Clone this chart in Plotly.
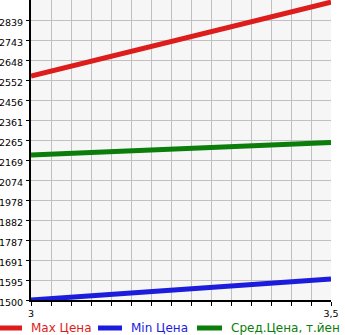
import plotly.graph_objects as go

x_vals = [3.0, 3.5]
max_price = [2571, 2925]
min_price = [1500, 1600]
avg_price = [2194, 2253]

series_names = ["Max Цена", "Min Цена", "Сред.Цена, т.йен"]
series_colors = ["#dd1c1c", "#1c1cdd", "#0a7d0a"]

y_tick_labels = ["1500", "1595", "1691", "1787", "1882", "1978", "2074", "2169",
                 "2265", "2361", "2456", "2552", "2648", "2743", "2839"]
y_tick_vals = [1500 + i * (1435 / 15) for i in range(15)]
x_tick_vals = [3 + i * (0.5 / 15) for i in range(16)]
x_tick_text = ["3"] + [""] * 14 + ["3,5"]

fig = go.Figure()
for name, ys, col in zip(series_names, [max_price, min_price, avg_price], series_colors):
    fig.add_trace(go.Scatter(x=x_vals, y=ys, mode="lines", name=name,
                             line=dict(color=col, width=5), showlegend=False))

W, H = 345, 335
ml, mr, mt, mb = 31, 14, 0, 35
pw, ph = W - ml - mr, H - mt - mb

def px_x(p):
    return (p - ml) / pw

def px_y(p):
    return (H - mb - p) / ph

# legend (line sample x-start, x-end, text x-start) in pixels
legend_pos = [(0, 22, 29), (98, 122, 129), (197, 222, 229)]
legend_y = 328
shapes = []
annotations = []
for (x0, x1, tx), name, col in zip(legend_pos, series_names, series_colors):
    shapes.append(dict(type="line", xref="paper", yref="paper",
                       x0=px_x(x0), x1=px_x(x1), y0=px_y(legend_y), y1=px_y(legend_y),
                       line=dict(color=col, width=5)))
    annotations.append(dict(xref="paper", yref="paper", x=px_x(tx), y=px_y(legend_y),
                            xanchor="left", yanchor="middle", text=name, showarrow=False,
                            font=dict(size=12, color=col, family="DejaVu Sans")))

fig.update_layout(
    width=W, height=H,
    margin=dict(l=ml, r=mr, t=mt, b=mb, autoexpand=False),
    paper_bgcolor="white", plot_bgcolor="#f6f6f6",
    font=dict(family="DejaVu Sans", size=9.5, color="black"),
    showlegend=False,
    shapes=shapes, annotations=annotations,
)
fig.update_xaxes(range=[3, 3.5], tickvals=x_tick_vals, ticktext=x_tick_text,
                 showgrid=True, gridcolor="#c0c0c0", gridwidth=1,
                 showline=True, linecolor="black", linewidth=2,
                 ticks="outside", ticklen=4, tickcolor="black", zeroline=False,
                 fixedrange=True)
fig.update_yaxes(range=[1500, 2935], tickvals=y_tick_vals, ticktext=y_tick_labels,
                 showgrid=True, gridcolor="#c0c0c0", gridwidth=1,
                 showline=True, linecolor="black", linewidth=2,
                 ticks="outside", ticklen=3, tickcolor="black", zeroline=False,
                 ticklabelshift=3, ticklabelstandoff=1, fixedrange=True)

fig.write_html("out.html")
